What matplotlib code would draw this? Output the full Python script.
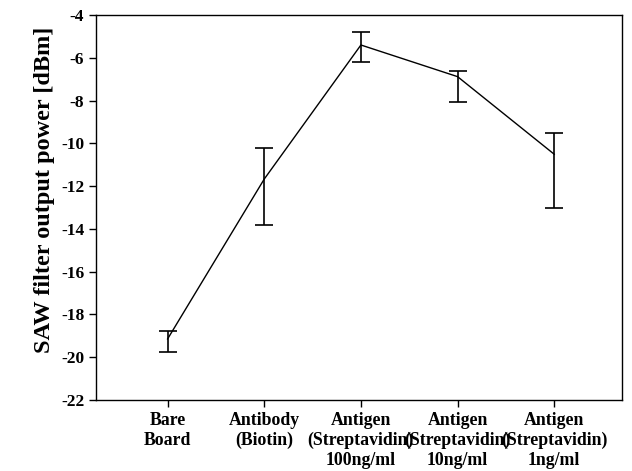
import matplotlib
matplotlib.use('Agg')
from matplotlib import pyplot as plt

# SAW filter output power per surface stage
stages = ['Bare\nBoard', 'Antibody\n(Biotin)', 'Antigen\n(Streptavidin)\n100ng/ml',
          'Antigen\n(Streptavidin)\n10ng/ml', 'Antigen\n(Streptavidin)\n1ng/ml']
power = [-19.15, -11.67, -5.40, -6.88, -10.51]
err_high = [-18.77, -10.20, -4.79, -6.60, -9.53]
err_low = [-19.75, -13.83, -6.18, -8.05, -13.04]
yticks = list(range(-22, -3, 2))

plt.rcParams['font.family'] = ['Liberation Serif', 'DejaVu Serif']
plt.rcParams['font.weight'] = 'bold'

fig = plt.figure(figsize=(6.32, 4.71), dpi=100)
ax = fig.add_axes([0.152, 0.151, 0.832, 0.817])

x = list(range(1, len(stages) + 1))
lower = [p - l for p, l in zip(power, err_low)]
upper = [h - p for p, h in zip(power, err_high)]
ax.errorbar(x, power, yerr=[lower, upper], color='black', lw=1.0,
            elinewidth=1.2, capsize=6.5, capthick=1.2)

ax.set_xlim(0.26, 5.7)
ax.set_ylim(-22, -4)
ax.set_yticks(yticks)
ax.set_yticklabels([str(t) for t in yticks], fontsize=12.5, fontweight='bold')
ax.set_xticks(x)
ax.set_xticklabels(stages, fontsize=12.8, fontweight='bold', linespacing=1.22)
ax.tick_params(axis='both', direction='out', length=5, width=1, top=False, right=False)
ax.set_ylabel('SAW filter output power [dBm]', fontsize=17.5, fontweight='bold')
ax.yaxis.set_label_coords(-0.078, 0.545)
for s in ax.spines.values():
    s.set_linewidth(1)

plt.savefig('out.png', dpi=100)
